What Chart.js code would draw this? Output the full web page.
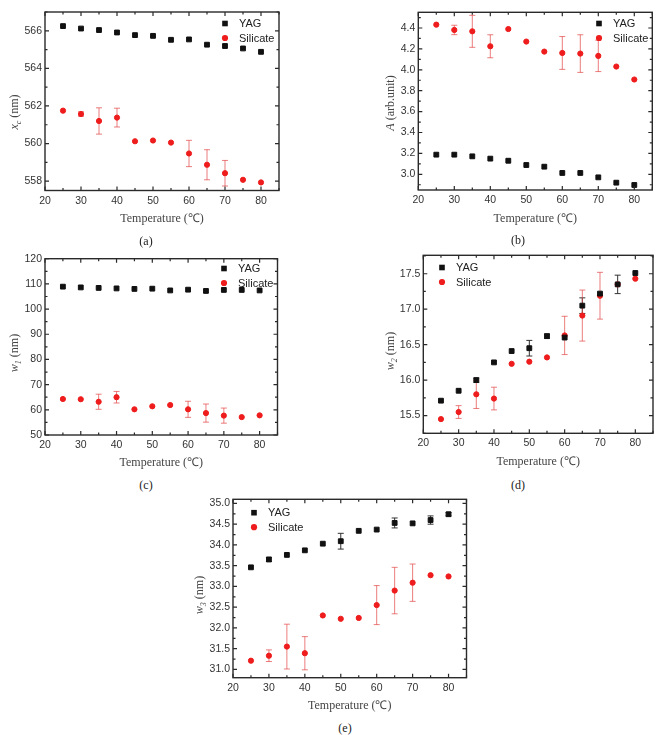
<!DOCTYPE html>
<html>
<head>
<meta charset="utf-8">
<title>YAG vs Silicate</title>
<script src="https://cdn.jsdelivr.net/npm/chart.js@4.4.1/dist/chart.umd.min.js"></script>
<style>
  body { margin: 0; background: #fff; }
  #page { position: relative; width: 658px; height: 735px; overflow: hidden; }
  #page canvas { position: absolute; }
  .cap { position: absolute; width: 40px; margin-left: -20px; text-align: center; font: 12px "Liberation Serif", "Times New Roman", serif; line-height: 14px; color: #222; }
</style>
</head>
<body>
<div id="page">
  <canvas id="chartA"></canvas>
  <canvas id="chartB"></canvas>
  <canvas id="chartC"></canvas>
  <canvas id="chartD"></canvas>
  <canvas id="chartE"></canvas>
  <div class="cap" style="left:146px;top:234px">(a)</div>
  <div class="cap" style="left:518px;top:233px">(b)</div>
  <div class="cap" style="left:146px;top:478px">(c)</div>
  <div class="cap" style="left:518px;top:478px">(d)</div>
  <div class="cap" style="left:345px;top:721px">(e)</div>
</div>
<script>
// temperatures (℃)
var temps = [25, 30, 35, 40, 45, 50, 55, 60, 65, 70, 75, 80];
var xTicks = [20, 30, 40, 50, 60, 70, 80];
var seriesNames = ['YAG', 'Silicate'];

// (a) peak position x_c (nm)
var xcYag = [566.25, 566.12, 566.04, 565.91, 565.77, 565.73, 565.52, 565.54, 565.26, 565.19, 565.06, 564.88];
var xcYagErr = [0, 0, 0, 0, 0, 0.05, 0, 0, 0, 0, 0, 0];
var xcSil = [561.75, 561.57, 561.2, 561.38, 560.12, 560.16, 560.05, 559.47, 558.87, 558.42, 558.07, 557.93];
var xcSilErr = [0, 0.12, 0.7, 0.5, 0, 0, 0, 0.7, 0.8, 0.68, 0, 0];
var xcTicks = [558, 560, 562, 564, 566];

// (b) amplitude A (arb.unit)
var aYag = [3.188, 3.188, 3.172, 3.15, 3.13, 3.089, 3.073, 3.013, 3.013, 2.971, 2.92, 2.898];
var aYagErr = [0, 0, 0, 0, 0, 0, 0, 0, 0, 0, 0, 0];
var aSil = [4.432, 4.381, 4.368, 4.225, 4.39, 4.27, 4.174, 4.161, 4.155, 4.133, 4.031, 3.907];
var aSilErr = [0, 0.045, 0.153, 0.11, 0, 0, 0, 0.157, 0.18, 0.15, 0, 0];
var aTicks = [3.0, 3.2, 3.4, 3.6, 3.8, 4.0, 4.2, 4.4];

// (c) width w1 (nm)
var w1Yag = [108.9, 108.6, 108.4, 108.2, 108.0, 108.1, 107.4, 107.7, 107.2, 107.6, 107.6, 107.4];
var w1YagErr = [0, 0, 0, 0, 0, 0, 0, 0, 0, 0, 0, 0];
var w1Sil = [64.3, 64.2, 63.2, 65.0, 60.2, 61.4, 61.9, 60.2, 58.7, 57.7, 57.1, 57.8];
var w1SilErr = [0, 0, 3.0, 2.3, 0, 0, 0, 3.2, 3.6, 3.0, 0, 0];
var w1Ticks = [50, 60, 70, 80, 90, 100, 110, 120];

// (d) width w2 (nm)
var w2Yag = [15.71, 15.85, 16.0, 16.25, 16.41, 16.45, 16.62, 16.6, 17.05, 17.22, 17.35, 17.51];
var w2YagErr = [0, 0, 0.03, 0, 0, 0.11, 0.03, 0, 0.11, 0, 0.13, 0];
var w2Sil = [15.45, 15.55, 15.8, 15.74, 16.23, 16.26, 16.32, 16.63, 16.91, 17.19, 17.35, 17.43];
var w2SilErr = [0, 0.09, 0.2, 0.16, 0, 0, 0, 0.27, 0.36, 0.33, 0, 0];
var w2Ticks = [15.5, 16.0, 16.5, 17.0, 17.5];

// (e) width w3 (nm)
var w3Yag = [33.46, 33.65, 33.76, 33.87, 34.03, 34.09, 34.34, 34.37, 34.53, 34.52, 34.6, 34.74];
var w3YagErr = [0, 0.05, 0, 0, 0, 0.19, 0, 0, 0.12, 0, 0.1, 0.04];
var w3Sil = [31.21, 31.33, 31.55, 31.39, 32.3, 32.22, 32.24, 32.55, 32.9, 33.09, 33.27, 33.24];
var w3SilErr = [0, 0.14, 0.54, 0.4, 0, 0, 0, 0.47, 0.56, 0.45, 0, 0];
var w3Ticks = [31.0, 31.5, 32.0, 32.5, 33.0, 33.5, 34.0, 34.5, 35.0];

var SANS = '"Liberation Sans", Arial, sans-serif';
var SERIF = '"Liberation Serif", "Times New Roman", serif';
var RED = '#ee1c1c';
var BLACK = '#111';

function toPoints(vals) {
    return temps.map(function (t, i) { return { x: t, y: vals[i] }; });
}

function makePanel(p) {
    var canvas = document.getElementById(p.id);
    var bx = p.box, fr = p.frame;
    canvas.width = bx.w;
    canvas.height = bx.h;
    canvas.style.left = bx.x + 'px';
    canvas.style.top = bx.y + 'px';

    var titleFont = 12;
    var titlePad = (bx.y + bx.h) - p.xTitleY - titleFont * 0.6;

    var decor = {
        id: 'decor',
        beforeDatasetsDraw: function (chart) {
            var c = chart.ctx, area = chart.chartArea, ys = chart.scales.y;
            c.save();
            c.beginPath();
            c.rect(area.left, area.top, area.right - area.left, area.bottom - area.top);
            c.clip();
            chart.data.datasets.forEach(function (ds, di) {
                var meta = chart.getDatasetMeta(di);
                c.strokeStyle = ds.errColor;
                c.lineWidth = 1;
                ds.errors.forEach(function (e, j) {
                    if (!e) return;
                    var v = ds.data[j].y, px = meta.data[j].x;
                    var y1 = ys.getPixelForValue(v + e), y2 = ys.getPixelForValue(v - e);
                    c.beginPath();
                    c.moveTo(px, y1); c.lineTo(px, y2);
                    c.moveTo(px - 3, y1); c.lineTo(px + 3, y1);
                    c.moveTo(px - 3, y2); c.lineTo(px + 3, y2);
                    c.stroke();
                });
            });
            c.restore();
        },
        afterDraw: function (chart) {
            var c = chart.ctx, a = chart.chartArea;
            var xs = chart.scales.x, ys = chart.scales.y;
            c.save();
            // frame
            c.strokeStyle = '#2a2a2a';
            c.lineWidth = 1.4;
            c.strokeRect(a.left, a.top, a.right - a.left, a.bottom - a.top);
            // inward ticks on all four sides
            c.lineWidth = 1.2;
            function xTick(v, len) {
                var px = xs.getPixelForValue(v);
                c.beginPath();
                c.moveTo(px, a.bottom); c.lineTo(px, a.bottom - len);
                c.moveTo(px, a.top); c.lineTo(px, a.top + len);
                c.stroke();
            }
            function yTick(v, len) {
                var py = ys.getPixelForValue(v);
                c.beginPath();
                c.moveTo(a.left, py); c.lineTo(a.left + len, py);
                c.moveTo(a.right, py); c.lineTo(a.right - len, py);
                c.stroke();
            }
            xTicks.forEach(function (v) { xTick(v, 4); xTick(v + 5, 2.5); });
            var st = p.yTicks[1] - p.yTicks[0];
            if (p.yTicks[0] - st / 2 >= p.yMin) yTick(p.yTicks[0] - st / 2, 2.5);
            p.yTicks.forEach(function (v) {
                yTick(v, 4);
                if (v + st / 2 <= p.yMax) yTick(v + st / 2, 2.5);
            });

            // legend
            c.font = '11px ' + SANS;
            c.textBaseline = 'middle';
            c.textAlign = 'left';
            chart.data.datasets.forEach(function (ds, di) {
                var lx = p.legend.x - bx.x, ly = p.legend.y - bx.y + di * 14.5;
                c.fillStyle = ds.backgroundColor;
                if (ds.pointStyle === 'rect') {
                    c.fillRect(lx - 2.8, ly - 2.8, 5.6, 5.6);
                } else {
                    c.beginPath(); c.arc(lx, ly, 3.1, 0, Math.PI * 2); c.fill();
                }
                c.fillStyle = '#222';
                c.fillText(ds.label, lx + 14, ly + 0.5);
            });

            // y axis title with italic symbol and subscript
            c.translate(p.yTitle.x - bx.x, p.yTitle.y - bx.y);
            c.rotate(-Math.PI / 2);
            c.fillStyle = '#444';
            c.textBaseline = 'alphabetic';
            var parts = p.yTitle.parts;
            var total = 0;
            parts.forEach(function (pt) {
                c.font = (pt.it ? 'italic ' : '') + (pt.sub ? 8 : 12) + 'px ' + SERIF;
                pt.w = c.measureText(pt.t).width;
                total += pt.w;
            });
            var cx = -total / 2;
            parts.forEach(function (pt) {
                c.font = (pt.it ? 'italic ' : '') + (pt.sub ? 8 : 12) + 'px ' + SERIF;
                c.fillText(pt.t, cx, pt.sub ? 7 : 4);
                cx += pt.w;
            });
            c.restore();
        }
    };

    return new Chart(canvas.getContext('2d'), {
        type: 'scatter',
        data: {
            datasets: [{
                label: seriesNames[0],
                data: toPoints(p.yag),
                errors: p.yagErr,
                errColor: '#333',
                pointStyle: 'rect',
                pointRadius: 3.4,
                pointBorderWidth: 1,
                backgroundColor: BLACK,
                borderColor: BLACK
            }, {
                label: seriesNames[1],
                data: toPoints(p.sil),
                errors: p.silErr,
                errColor: 'rgba(226, 70, 70, 0.7)',
                pointStyle: 'circle',
                pointRadius: 2.6,
                pointBorderWidth: 1,
                backgroundColor: RED,
                borderColor: RED
            }]
        },
        options: {
            responsive: false,
            animation: false,
            events: [],
            layout: {
                padding: { left: 0, top: fr.t - bx.y, right: bx.x + bx.w - fr.r, bottom: 0 }
            },
            scales: {
                x: {
                    type: 'linear',
                    min: 20,
                    max: 85,
                    afterBuildTicks: function (s) { s.ticks = xTicks.map(function (v) { return { value: v }; }); },
                    afterFit: function (s) { s.height = bx.y + bx.h - fr.b; },
                    grid: { display: false, drawTicks: false },
                    border: { display: false },
                    ticks: {
                        padding: 4,
                        maxRotation: 0,
                        color: '#333',
                        font: { family: SANS, size: 10.5 }
                    },
                    title: {
                        display: true,
                        text: 'Temperature (℃)',
                        color: '#444',
                        font: { family: SERIF, size: titleFont },
                        padding: { top: 0, bottom: titlePad }
                    }
                },
                y: {
                    min: p.yMin,
                    max: p.yMax,
                    afterBuildTicks: function (s) { s.ticks = p.yTicks.map(function (v) { return { value: v }; }); },
                    afterFit: function (s) { s.width = fr.l - bx.x; },
                    grid: { display: false, drawTicks: false },
                    border: { display: false },
                    ticks: {
                        padding: 3,
                        color: '#333',
                        font: { family: SANS, size: 10.5 },
                        callback: function (v) { return Number(v).toFixed(p.decimals); }
                    }
                }
            },
            plugins: {
                legend: { display: false },
                tooltip: { enabled: false }
            }
        },
        plugins: [decor]
    });
}

document.addEventListener("DOMContentLoaded", function () {
    makePanel({
        id: 'chartA',
        box: { x: 0, y: 0, w: 300, h: 228 },
        frame: { l: 45, t: 12, r: 279, b: 190.5 },
        yMin: 557.5, yMax: 567, yTicks: xcTicks, decimals: 0,
        yag: xcYag, yagErr: xcYagErr, sil: xcSil, silErr: xcSilErr,
        legend: { x: 225, y: 23.5 },
        xTitleY: 219,
        yTitle: { x: 14, y: 112, parts: [{ t: 'x', it: true }, { t: 'c', it: true, sub: true }, { t: ' (nm)' }] }
    });
    makePanel({
        id: 'chartB',
        box: { x: 345, y: 0, w: 313, h: 228 },
        frame: { l: 418.3, t: 12.3, r: 652.3, b: 190 },
        yMin: 2.85, yMax: 4.55, yTicks: aTicks, decimals: 1,
        yag: aYag, yagErr: aYagErr, sil: aSil, silErr: aSilErr,
        legend: { x: 599, y: 23.5 },
        xTitleY: 219,
        yTitle: { x: 390, y: 103, parts: [{ t: 'A', it: true }, { t: ' (arb.unit)' }] }
    });
    makePanel({
        id: 'chartC',
        box: { x: 0, y: 246, w: 300, h: 227 },
        frame: { l: 45, t: 258.7, r: 277.5, b: 435 },
        yMin: 50, yMax: 120, yTicks: w1Ticks, decimals: 0,
        yag: w1Yag, yagErr: w1YagErr, sil: w1Sil, silErr: w1SilErr,
        legend: { x: 224, y: 268.5 },
        xTitleY: 463,
        yTitle: { x: 14, y: 353, parts: [{ t: 'w', it: true }, { t: '1', it: true, sub: true }, { t: ' (nm)' }] }
    });
    makePanel({
        id: 'chartD',
        box: { x: 345, y: 246, w: 313, h: 226 },
        frame: { l: 423.3, t: 253.8, r: 653.8, b: 433.3 },
        yMin: 15.25, yMax: 17.76, yTicks: w2Ticks, decimals: 1,
        yag: w2Yag, yagErr: w2YagErr, sil: w2Sil, silErr: w2SilErr,
        legend: { x: 442, y: 267.5 },
        xTitleY: 462,
        yTitle: { x: 390, y: 351, parts: [{ t: 'w', it: true }, { t: '2', it: true, sub: true }, { t: ' (nm)' }] }
    });
    makePanel({
        id: 'chartE',
        box: { x: 180, y: 490, w: 300, h: 226 },
        frame: { l: 233, t: 497.5, r: 466.5, b: 677.7 },
        yMin: 30.8, yMax: 35.1, yTicks: w3Ticks, decimals: 1,
        yag: w3Yag, yagErr: w3YagErr, sil: w3Sil, silErr: w3SilErr,
        legend: { x: 254, y: 512.7 },
        xTitleY: 706,
        yTitle: { x: 199, y: 595, parts: [{ t: 'w', it: true }, { t: '3', it: true, sub: true }, { t: ' (nm)' }] }
    });
});
</script>
</body>
</html>
